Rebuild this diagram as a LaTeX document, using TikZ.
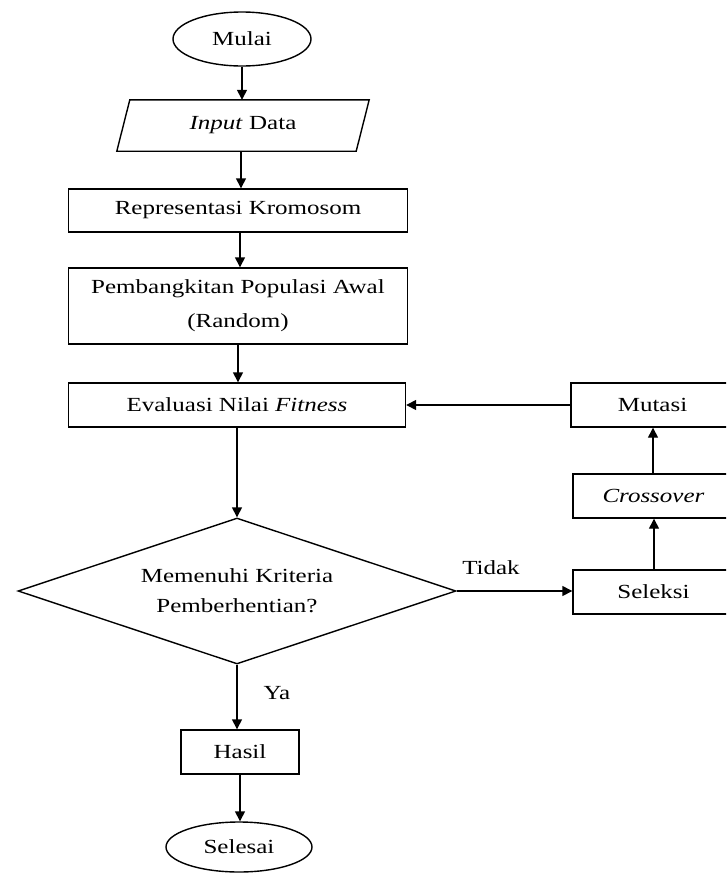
\documentclass[tikz,border=0pt]{standalone}
\usepackage{fontspec}
\setmainfont{Liberation Serif}[FakeStretch=1.25]
\usetikzlibrary{shapes.geometric,arrows.meta}
\newcommand\diafont{\fontsize{20}{30}\selectfont}
\begin{document}
\begin{tikzpicture}[x=1pt,y=-1pt,
  shp/.style={draw, line width=1.4pt},
  box/.style={shp, rectangle, minimum height=44pt, inner sep=0pt, font=\diafont},
  term/.style={shp, ellipse, inner sep=0pt, font=\diafont},
  plain/.style={rectangle, inner sep=0pt, font=\diafont},
  dia/.style={shp, diamond, aspect=3, minimum width=438pt, minimum height=146pt, inner sep=0pt, align=center, font=\diafont},
  lbl/.style={inner sep=0pt, font=\diafont},
  arr/.style={line width=1.4pt, -{Triangle[length=10pt,width=10pt]}}]
\useasboundingbox (0,0) rectangle (726,873);
\fill[white] (0,0) rectangle (726,873);
\clip (0,0) rectangle (726,873);

\node[term, minimum width=138pt, minimum height=54pt] (start) at (242,39) {Mulai};
\node[plain, minimum width=239pt, minimum height=51pt] (inp) at (243,125.5) {\textit{Input} Data};
\draw[shp] ([xshift=6.5pt]inp.north west) -- ([xshift=6.5pt]inp.north east)
  -- ([xshift=-6.5pt]inp.south east) -- ([xshift=-6.5pt]inp.south west) -- cycle;
\node[box, minimum width=339pt, minimum height=43pt] (rep) at (238,210.5) {Representasi Kromosom};
\node[box, minimum width=339pt, minimum height=76pt, align=center, font=\fontsize{20}{34}\selectfont] (pop) at (238,306) {Pembangkitan Populasi Awal\\(Random)};
\node[box, minimum width=337pt] (eval) at (237,405) {Evaluasi Nilai \textit{Fitness}};
\node[dia] (dec) at (237,591) {Memenuhi Kriteria\\Pemberhentian?};
\node[box, minimum width=163pt] (mut) at (652.5,405) {Mutasi};
\node[box, minimum width=161pt] (cross) at (653.5,496) {\textit{Crossover}};
\node[box, minimum width=161pt] (sel) at (653.5,592) {Seleksi};
\node[box, minimum width=118pt] (hasil) at (240,752) {Hasil};
\node[term, minimum width=146pt, minimum height=50pt] (stop) at (239,847) {Selesai};

\node[lbl] (tidak) at (491,568) {Tidak};
\node[lbl] (ya) at (277,693) {Ya};

\draw[arr] (start.south) -- (start.south |- inp.north);
\draw[arr] ([xshift=-2pt]inp.south) -- ([xshift=-2pt]inp.south |- rep.north);
\draw[arr] ([xshift=2pt]rep.south) -- ([xshift=2pt]rep.south |- pop.north);
\draw[arr] (pop.south) -- (pop.south |- eval.north);
\draw[arr] (eval.south) -- (eval.south |- dec.north);
\draw[arr] (dec.east) -- (dec.east -| sel.west);
\draw[arr] ([xshift=0.5pt]sel.north) -- ([xshift=0.5pt]sel.north |- cross.south);
\draw[arr] ([xshift=-0.5pt]cross.north) -- ([xshift=-0.5pt]cross.north |- mut.south);
\draw[arr] (mut.west) -- (mut.west -| eval.east);
\draw[arr] (dec.south) -- (dec.south |- hasil.north);
\draw[arr] (hasil.south) -- (hasil.south |- stop.north);
\end{tikzpicture}
\end{document}
